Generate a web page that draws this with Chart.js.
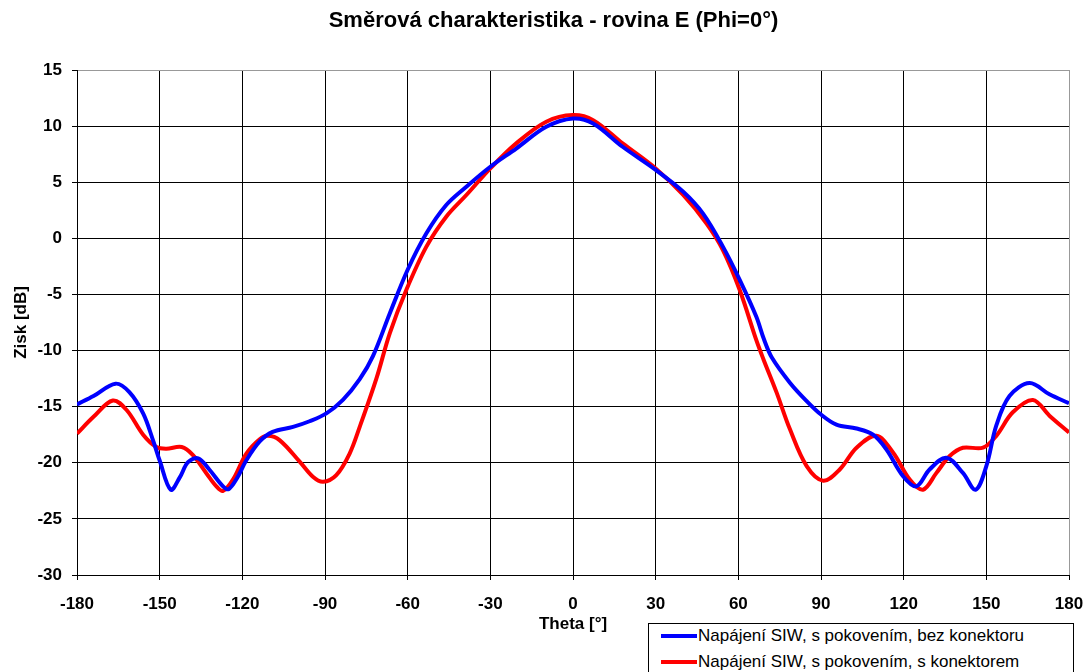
<!DOCTYPE html>
<html>
<head>
<meta charset="utf-8">
<script src="https://cdn.jsdelivr.net/npm/chart.js@4.4.0/dist/chart.umd.min.js"></script>
<style>
html,body{margin:0;padding:0;background:#fff;overflow:hidden}
#wrap{position:relative;width:1087px;height:672px}
#lg{position:absolute;left:648px;top:623px;width:424px;height:60px;border:1px solid #000;background:#fff;
  font-family:'Liberation Sans',Arial,sans-serif;font-size:17px;color:#000}
.lr{position:absolute;left:12px;height:20px;line-height:20px;white-space:nowrap}
.lr i{display:inline-block;width:36px;height:4px;vertical-align:middle;margin-right:1px;position:relative;top:-1px}
</style>
</head>
<body>
<div id="wrap">
<canvas id="c" width="1087" height="672"></canvas>
<div id="lg">
  <div class="lr" style="top:2px"><i style="background:#0000ff"></i>Napájení SIW, s pokovením, bez konektoru</div>
  <div class="lr" style="top:28px"><i style="background:#ff0000"></i>Napájení SIW, s pokovením, s konektorem</div>
</div>
</div>
<script>
// ── DATA ─────────────────────────────────────────────────
var thetaBlue=[-180,-174,-166,-161,-156,-152.4,-150,-146,-142.7,-139.7,-136,-132,-127,-125,-122,-118.6,-113.7,-109,-101.6,-95.6,-89.5,-83.5,-77.4,-72.6,-66.5,-60,-53.2,-46,-38.7,-30,-20.6,-9.7,0,7.3,18,30,40,47.2,54.4,60.5,66.5,69.3,72.1,78.7,84.8,90,95.6,102.9,108.9,113.7,119.8,124.6,129.4,135.5,141.5,146.1,150,153.6,158.4,165.7,172.9,180];
var gainBlue=[-14.8,-14.05,-12.95,-13.7,-15.6,-18.0,-19.8,-22.4,-21.3,-19.95,-19.6,-20.6,-22.1,-22.35,-21.4,-19.8,-18.1,-17.25,-16.8,-16.3,-15.6,-14.4,-12.55,-10.5,-6.7,-2.8,0.45,2.97,4.6,6.38,8.0,9.94,10.68,10.24,8.16,6.1,4.15,2.2,-0.74,-3.7,-6.97,-9.0,-10.6,-12.86,-14.5,-15.7,-16.6,-16.95,-17.5,-18.8,-21.2,-22.1,-20.6,-19.55,-20.9,-22.4,-20.3,-16.7,-14.05,-12.9,-13.9,-14.7];
var thetaRed=[-180,-174,-167,-162,-156,-151.2,-147.6,-142,-138,-133,-129.4,-127,-123.4,-118.6,-113.7,-110.7,-106.5,-99.2,-94.4,-90.7,-85.9,-81.1,-77.4,-71.3,-66.5,-60.5,-53.2,-46,-38.7,-30,-20.6,-9.7,0,7.3,18,30,40,48.4,54.4,60.5,66.5,69.1,73.9,78.7,84.8,90.8,96.8,102.9,110.1,116.2,122.2,127,131.9,136.7,141.5,148.8,153.6,159.6,166.9,172.9,180];
var gainRed=[-17.4,-15.9,-14.45,-15.3,-17.5,-18.6,-18.75,-18.6,-19.3,-20.95,-22.1,-22.5,-21.5,-19.2,-17.9,-17.6,-17.98,-19.9,-21.25,-21.7,-21.1,-19.2,-16.8,-12.46,-8.46,-4.6,-0.74,1.93,3.86,6.23,8.46,10.39,10.98,10.53,8.46,6.23,3.86,1.34,-1.04,-4.6,-9.05,-10.77,-13.75,-17.0,-20.3,-21.6,-20.6,-18.66,-17.6,-19.1,-21.5,-22.4,-20.9,-19.4,-18.66,-18.66,-17.6,-15.5,-14.4,-15.8,-17.3];
var seriesNames=['Napájení SIW, s pokovením, bez konektoru','Napájení SIW, s pokovením, s konektorem'];

function pts(xs,ys){return xs.map(function(x,i){return {x:x,y:ys[i]};});}

var FF="'Liberation Sans', Arial, sans-serif";
Chart.defaults.font.family=FF;
Chart.defaults.color='#000';

new Chart(document.getElementById('c').getContext('2d'),{
  type:'line',
  data:{
    datasets:[
      {label:seriesNames[0],data:pts(thetaBlue,gainBlue),borderColor:'#0000ff',borderWidth:4,pointRadius:0,tension:0.35,fill:false},
      {label:seriesNames[1],data:pts(thetaRed,gainRed),borderColor:'#ff0000',borderWidth:4,pointRadius:0,tension:0.35,fill:false}
    ]
  },
  options:{
    responsive:false,
    animation:false,
    devicePixelRatio:1,
    layout:{padding:{left:20,right:0,top:0,bottom:0}},
    plugins:{
      legend:{display:false},
      tooltip:{enabled:false},
      title:{display:true,text:'Směrová charakteristika - rovina E (Phi=0°)',color:'#000',
        font:{size:22,weight:'bold'},padding:{top:8,bottom:35.6}}
    },
    scales:{
      x:{
        type:'linear',min:-180,max:180,
        afterFit:function(s){s.height=97;s.paddingRight=18;},
        ticks:{stepSize:30,padding:14,font:{size:17,weight:'bold'},color:'#000',maxRotation:0},
        grid:{color:function(c){return c.tick&&c.tick.value===180?'#999':'#000';},tickColor:'#000',tickLength:5,lineWidth:1},
        border:{display:true,color:'#000',width:1},
        title:{display:true,text:'Theta [°]',color:'#000',font:{size:17,weight:'bold'},padding:{top:0,bottom:37}}
      },
      y:{
        min:-30,max:15,
        afterFit:function(s){s.width=57;},
        ticks:{stepSize:5,padding:10,font:{size:17,weight:'bold'},color:'#000'},
        grid:{color:function(c){return c.tick&&c.tick.value===15?'#999':'#000';},tickColor:'#000',tickLength:5,lineWidth:1},
        border:{display:true,color:'#000',width:1},
        title:{display:true,text:'Zisk [dB]',color:'#000',font:{size:17,weight:'bold'},padding:{top:-9,bottom:0}}
      }
    }
  }
});
</script>
</body>
</html>
